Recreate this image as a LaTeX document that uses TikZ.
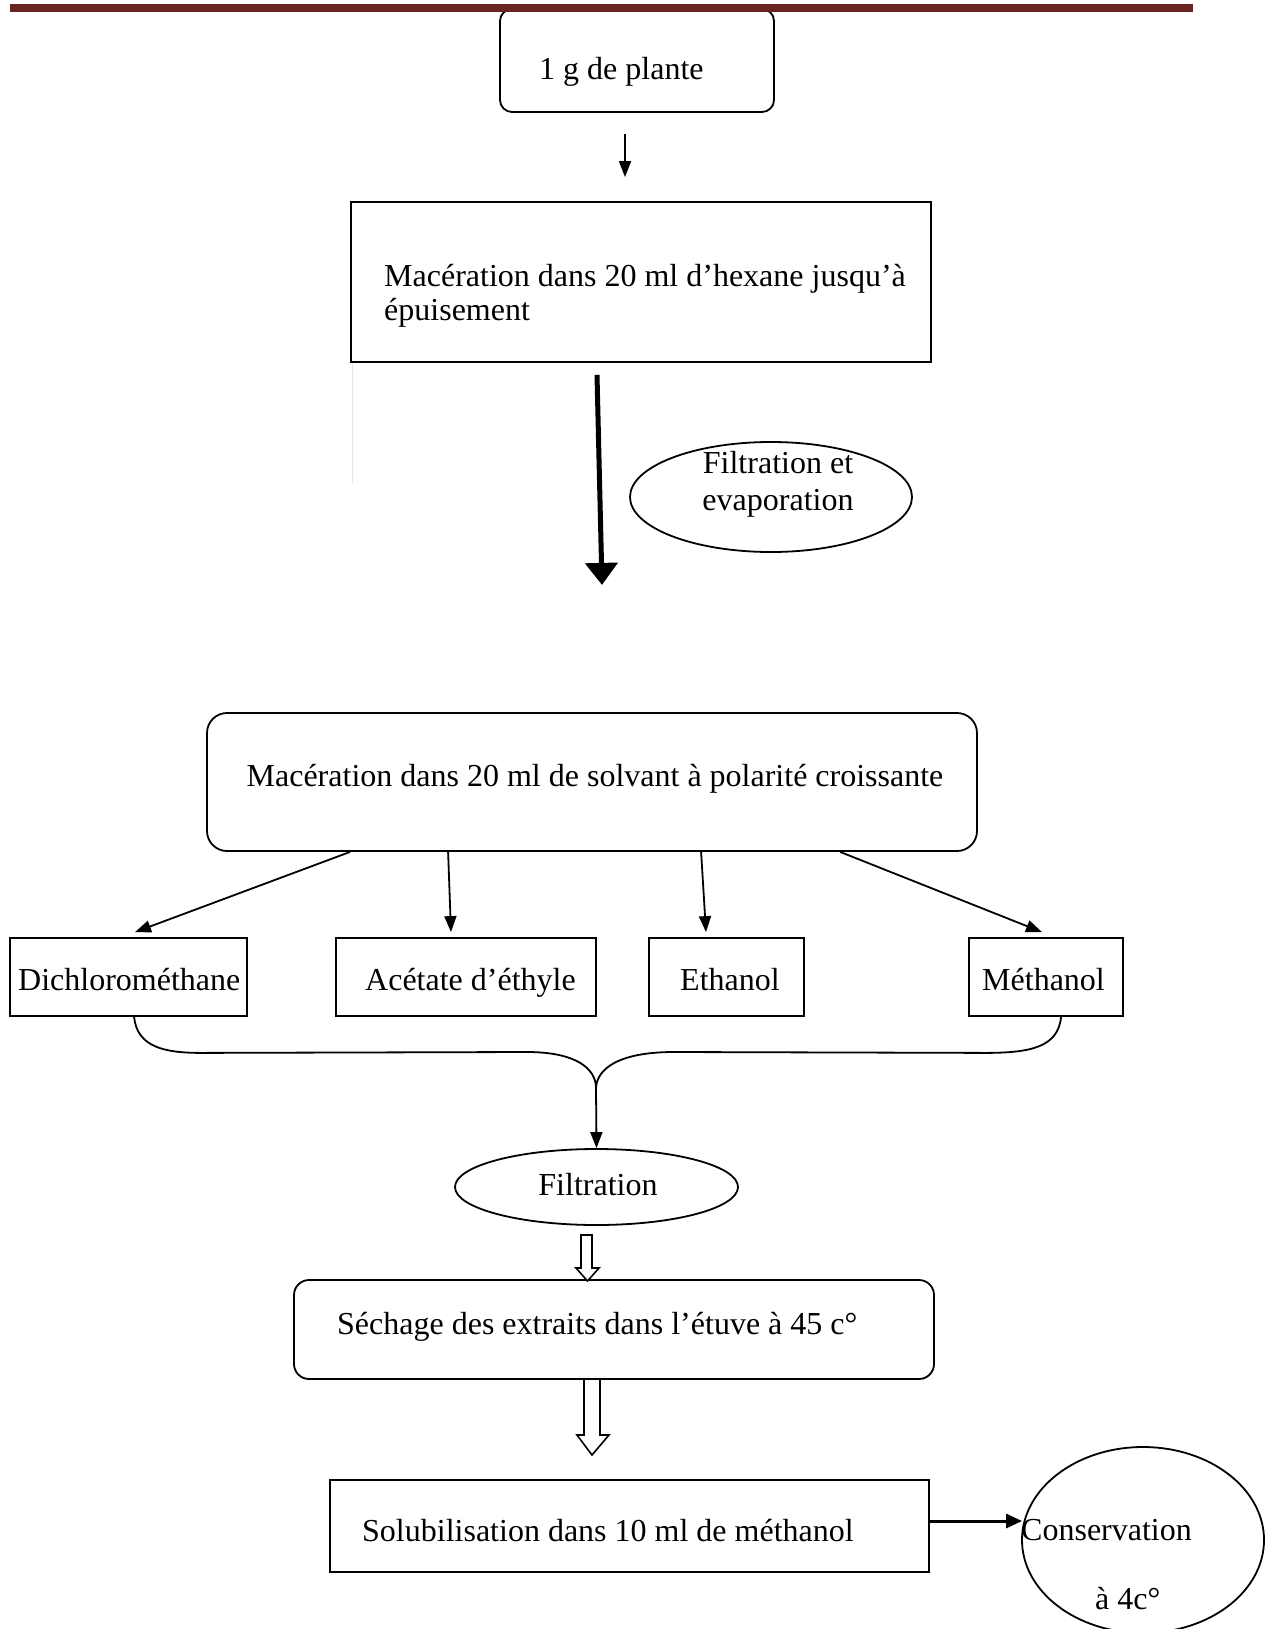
\documentclass[tikz,border=0pt]{standalone}
\usepackage{fontspec}
\setmainfont{Liberation Serif}
\usetikzlibrary{arrows.meta,calc,shapes.geometric}
\definecolor{barred}{RGB}{108,34,34}
\begin{document}
\begin{tikzpicture}[x=1pt,y=-1pt,
  box/.style={draw,line width=1.8pt,inner sep=0pt,fill=white},
  rbox/.style={box,rounded corners=#1},
  oval/.style={draw,ellipse,line width=1.8pt,inner sep=0pt},
  txt/.style={inner sep=0pt,anchor=base west,font=\fontsize{32}{35}\selectfont},
  ctxt/.style={inner sep=0pt,anchor=base,font=\fontsize{32}{35}\selectfont},
  thin arrow/.style={line width=1.8pt,-{Triangle[length=16pt,width=12pt]}},
  big arrow/.style={line width=5pt,-{Triangle[length=22pt,width=32pt]}},
  hollow/.style={draw,line width=1.6pt,fill=white,line join=miter}]
\useasboundingbox (0,0) rectangle (1274,1629);

% boxes
\node[rbox=12pt,minimum width=274pt,minimum height=103pt] (plante) at (637,60.5) {};
\fill[barred] (10,4) rectangle (1193,12);
\node[box,minimum width=580pt,minimum height=160pt] (hex) at (641,282) {};
\draw[black!10,line width=1pt] (352,363) -- (352,483);
\node[oval,minimum width=282pt,minimum height=110pt] (filtev) at (771,497) {};
\node[rbox=20pt,minimum width=770pt,minimum height=138pt] (solv) at (592,782) {};
\node[box,minimum width=237pt,minimum height=78pt] (dcm) at (128.5,977) {};
\node[box,minimum width=260pt,minimum height=78pt] (ace) at (466,977) {};
\node[box,minimum width=155pt,minimum height=78pt] (eth) at (726.5,977) {};
\node[box,minimum width=154pt,minimum height=78pt] (meth) at (1046,977) {};
\node[oval,minimum width=283pt,minimum height=76pt] (filt) at (596.5,1187) {};
\node[rbox=15pt,minimum width=640pt,minimum height=99pt] (sech) at (614,1329.5) {};
\node[box,minimum width=599pt,minimum height=92pt] (solub) at (629.5,1526) {};
\node[oval,minimum width=242pt,minimum height=186pt] (cons) at (1143,1540) {};

% texts
\node[txt] (t1) at (539,80) {1 g de plante};
\node[txt] (t2a) at (384,286) {Macération dans 20 ml d’hexane jusqu’à};
\node[txt] (t2b) at (384,320) {épuisement};
\node[ctxt] (t3a) at (778,473) {Filtration et};
\node[ctxt] (t3b) at (778,510) {evaporation};
\node[ctxt] (t4) at (595,786) {Macération dans 20 ml de solvant à polarité croissante};
\node[txt] (t5) at (18,990) {Dichlorométhane};
\node[txt] (t6) at (365,990) {Acétate d’éthyle};
\node[txt] (t7) at (680,990) {Ethanol};
\node[txt] (t8) at (982,990) {Méthanol};
\node[ctxt] (t9) at (598,1195) {Filtration};
\node[txt] (t10) at (337,1334) {Séchage des extraits dans l’étuve à 45 c°};
\node[txt] (t11) at (362,1541) {Solubilisation dans 10 ml de méthanol};
\node[txt] (t12) at (1021,1540) {Conservation};
\node[txt] (t13) at (1095,1609) {à 4c°};

% connectors
\draw[thin arrow] ($(plante.south)+(-12,21)$) -- ($(hex.north)+(-16,-24)$);
\coordinate (bigstart) at ($(hex.south)+(-44,12)$);
\coordinate (bigend) at ($(hex.south)+(-39,222)$);
\draw[big arrow] (bigstart) -- (bigend);

\draw[thin arrow] ($(solv.south west)+(144,0)$) -- ($(dcm.north)+(6.5,-5)$);
\draw[thin arrow] ($(solv.south west)+(242,0)$) -- ($(ace.north)+(-15,-5)$);
\draw[thin arrow] ($(solv.south west)+(495,0)$) -- ($(eth.north)+(-20.5,-5)$);
\draw[thin arrow] ($(solv.south west)+(634,0)$) -- ($(meth.north)+(-4,-5)$);

\coordinate (bl) at ($(dcm.south west)+(125,0)$);
\coordinate (br) at ($(meth.south west)+(93,0)$);
\coordinate (tip) at (596,1088);
\draw[line width=1.8pt]
  (bl) .. controls ($(bl)+(3,30)$) and ($(bl)+(30,36)$) .. ($(bl)+(67,36)$)
  -- (527,1052) .. controls (575,1052) and (596,1068) .. (tip)
  .. controls (597,1068) and (620,1052) .. (674,1052)
  -- ($(br)+(-76,36)$) .. controls ($(br)+(-30,36)$) and ($(br)+(-3,30)$) .. (br);
\draw[thin arrow] (tip) -- (filt.north);

% hollow block arrows
\draw[hollow] (581,1235) -- (592,1235) -- (592,1268) -- (599,1268) -- (587.5,1281) -- (576,1268) -- (581,1268) -- cycle;
\draw[hollow] (584,1379) -- (600,1379) -- (600,1435) -- (609,1435) -- (592,1455) -- (577,1435) -- (584,1435) -- cycle;

\draw[line width=3pt,-{Triangle[length=16pt,width=14pt]}] ($(solub.east)+(0,-5)$) -- ($(cons.west)+(1,-19)$);
\end{tikzpicture}
\end{document}
